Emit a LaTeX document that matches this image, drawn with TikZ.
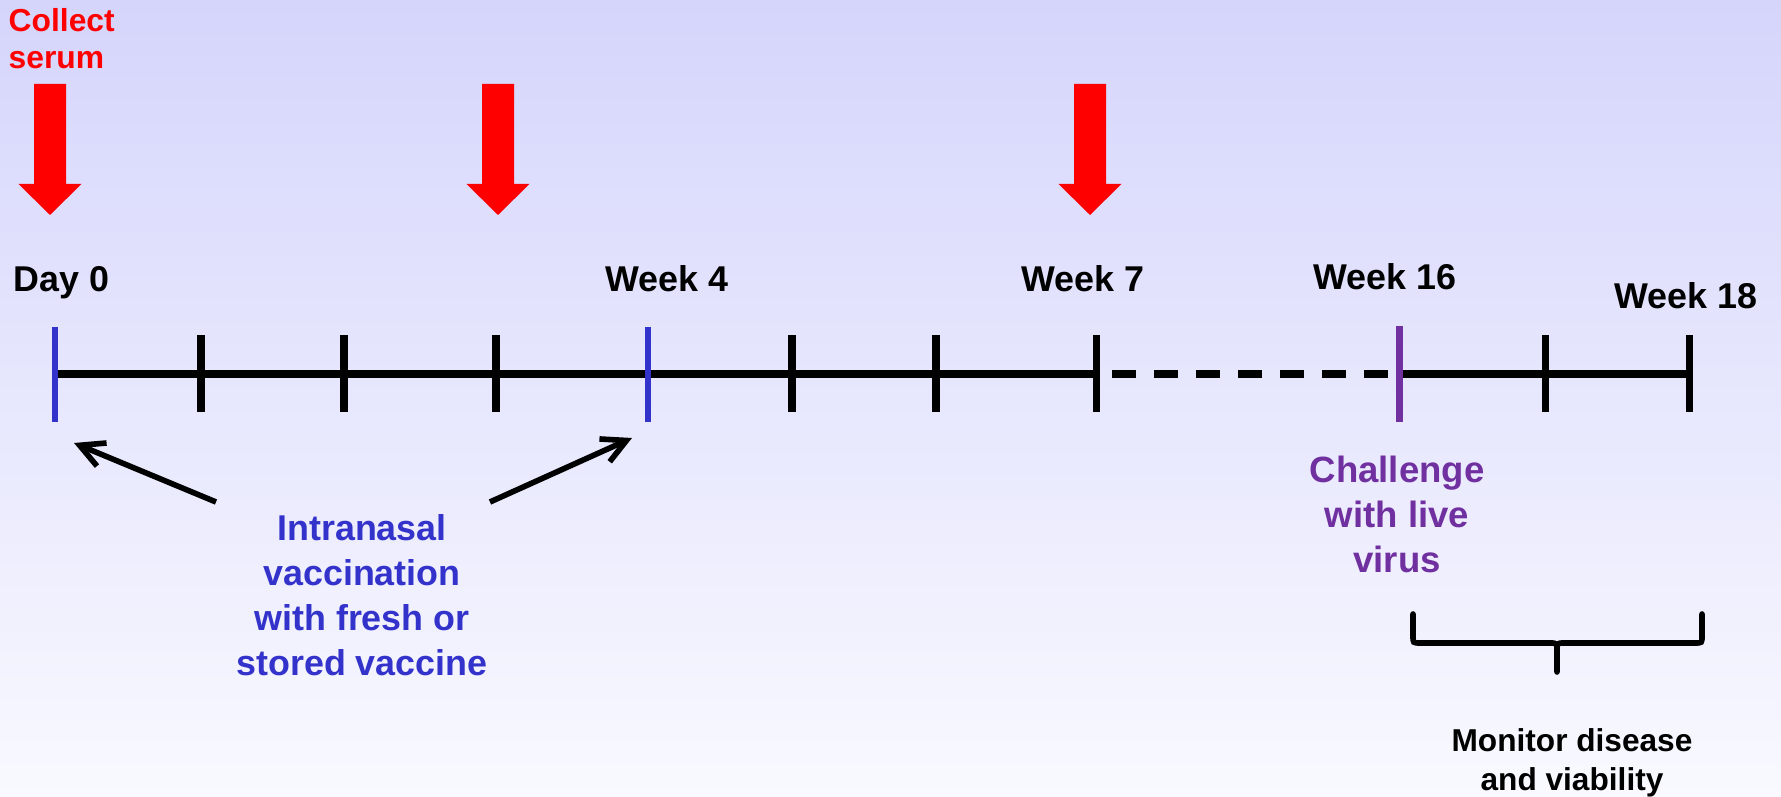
\documentclass[tikz,border=0pt]{standalone}
\usepackage{fontspec}
\setmainfont{Liberation Sans}
\usetikzlibrary{arrows.meta, calc}
\definecolor{vaccblue}{RGB}{51,51,204}
\definecolor{chalpurple}{RGB}{112,48,160}
\definecolor{bgtop}{RGB}{213,213,252}
\definecolor{bgbottom}{RGB}{249,249,255}
\begin{document}
\begin{tikzpicture}[every node/.style={align=center, inner sep=0pt, font=\bfseries\fontsize{10.2}{12.8}\selectfont},
  weektick/.style={line width=2pt},
  doselink/.style={line width=1.6pt, -{Straight Barb[length=2.4mm, width=2.5mm]}},
  bracket/.style={line width=1.6pt, line cap=round}]
  % Background
  \useasboundingbox (0,0) rectangle (17.81,7.97);
  \shade[top color=bgtop, bottom color=bgbottom] (0,0) rectangle (17.81,7.97);

  % Top: serum collection
  \node[anchor=north west, align=left, text=red, font=\bfseries\fontsize{9.05}{10.5}\selectfont] (serum) at (0.08,7.89) {Collect\\serum};
  \foreach \x in {0.50, 4.98, 10.90}
    \fill[red] (\x-0.16,7.13) -- (\x+0.16,7.13) -- (\x+0.16,6.13) -- (\x+0.315,6.13) -- (\x,5.82) -- (\x-0.315,6.13) -- (\x-0.16,6.13) -- cycle;

  % Timeline
  \foreach \x [count=\i] in {0.55, 2.01, 3.44, 4.96, 6.48, 7.92, 9.36, 10.96, 13.99, 15.45, 16.89}
    \coordinate (t\i) at (\x,4.23);
  \draw[line width=2pt] (t1) -- (t8);
  \draw[line width=2pt, dash pattern=on 0.24cm off 0.18cm] (11.12,4.23) -- (t9);
  \draw[line width=2pt] (t9) -- (t11);
  \foreach \i in {2,3,4,6,7,8,10,11}
    \draw[weektick] ($(t\i)+(0,0.385)$) -- ($(t\i)+(0,-0.385)$);
  \draw[weektick, vaccblue, line width=1.7pt] (0.55,4.70) -- (0.55,3.75);
  \draw[weektick, vaccblue, line width=1.7pt] (6.48,4.70) -- (6.48,3.75);
  \draw[weektick, chalpurple] (13.99,4.71) -- (13.99,3.75);

  % Week labels
  \node[anchor=base] (day0) at (0.615,5.05) {Day 0};
  \node[anchor=base] (wk4) at (6.67,5.05) {Week 4};
  \node[anchor=base] (wk7) at (10.83,5.05) {Week 7};
  \node[anchor=base] (wk16) at (13.85,5.07) {Week 16};
  \node[anchor=base] (wk18) at (16.86,4.88) {Week 18};

  % Bottom: vaccination and challenge
  \node[anchor=north, text=vaccblue] (vacc) at (3.62,2.83) {Intranasal\\vaccination\\with fresh or\\stored vaccine};
  \coordinate (vaccL) at (2.16,2.95);
  \coordinate (vaccR) at (4.90,2.95);
  \coordinate (dose1) at (0.74,3.54);
  \coordinate (dose2) at (6.32,3.59);
  \draw[doselink] (vaccL) -- (dose1);
  \draw[doselink] (vaccR) -- (dose2);

  \node[anchor=north, text=chalpurple, font=\bfseries\fontsize{10.4}{12.9}\selectfont] (chal) at (13.97,3.42) {Challenge\\with live\\virus};

  % Monitoring bracket
  \draw[bracket] (14.13,1.83) -- (14.13,1.61) .. controls (14.13,1.54) .. (14.20,1.54) -- (15.50,1.54) .. controls (15.57,1.54) .. (15.57,1.45) -- (15.57,1.25);
  \draw[bracket] (17.02,1.83) -- (17.02,1.61) .. controls (17.02,1.54) .. (16.95,1.54) -- (15.64,1.54) .. controls (15.57,1.54) .. (15.57,1.45);
  \node[anchor=north, font=\bfseries\fontsize{9}{11}\selectfont] (monitor) at (15.72,0.69) {Monitor disease\\and viability};
\end{tikzpicture}
\end{document}
